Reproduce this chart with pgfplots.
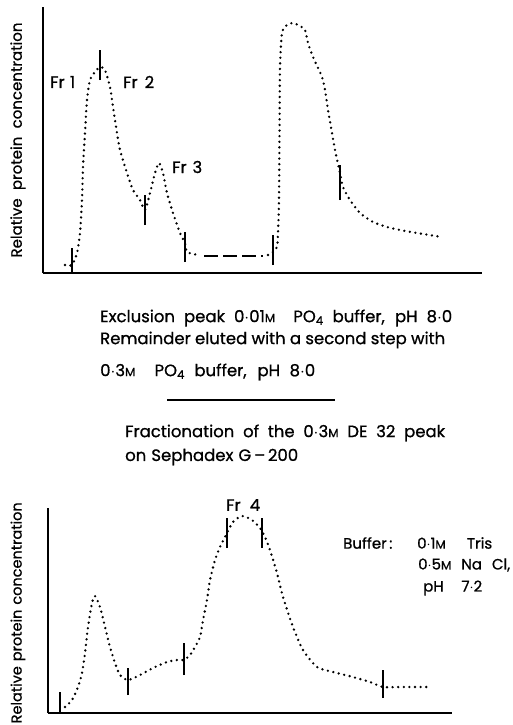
\documentclass[border=0pt]{standalone}
\usepackage{fontspec}
\setmainfont{Poppins}[FakeBold=0.8]
\usepackage{pgfplots}
\pgfplotsset{compat=1.18}
\newcommand\M{{\fontsize{12}{12}\selectfont M}}
\newcommand\W[2]{\makebox[#1pt][s]{#2}}
\begin{document}
\begin{tikzpicture}[x=1pt,y=1pt]
\useasboundingbox (0,0) rectangle (513,-725);
\pgfplotsset{
  dots/.style={black, line width=2.6pt, line cap=round, dash pattern=on 0pt off 5.6pt},
  mk/.style={black, line width=1.7pt},
  panel/.style={scale only axis, axis lines=left, axis line style={-, line width=2pt, black},
    xtick=\empty, ytick=\empty, clip=false}
}
% ---------- top panel ----------
\begin{axis}[panel, at={(43pt,-273pt)}, anchor=south west, width=439pt, height=266pt,
  xmin=43, xmax=482, ymin=0, ymax=266]
\addplot[dots, smooth, tension=0.4] coordinates {
(65,8)(72,8)(77,20)(80,40)(82,73)(83,106)(85,140)(87,173)(90,193)(95,201)(100,206)
(105,203)(110,186)(113,166)(117,140)(120,123)(127,100)(133,83)(140,73)(145,63)
(150,80)(155,100)(159,110)(163,100)(167,80)(173,60)(180,40)(185,30)(187,21)(198,18)};
\addplot[black, line width=1.8pt, dash pattern=on 14pt off 5pt] coordinates {(204,17)(263,17)};
\addplot[dots, smooth, tension=0.4] coordinates {
(268,18)(273,21)(277,26)(278,40)(279,73)(279.5,140)(280,206)(282,240)(287,248)(293,250)
(300,247)(305,243)(308,230)(313,216)(322,196)(325,183)(328,163)(332,140)(335,123)
(340,100)(343,86)(350,73)(360,60)(373,51)(387,46)(400,43)(417,40)(442,36)};
\addplot[mk] coordinates {(72,0)(72,25)};
\addplot[mk] coordinates {(100,193)(100,223)};
\addplot[mk] coordinates {(145,48)(145,78)};
\addplot[mk] coordinates {(185,11)(185,41)};
\addplot[mk] coordinates {(273,8)(273,38)};
\addplot[mk] coordinates {(340,73)(340,108)};
\end{axis}
% ---------- bottom panel ----------
\begin{axis}[panel, at={(48pt,-713pt)}, anchor=south west, width=404pt, height=205pt,
  xmin=48, xmax=452, ymin=0, ymax=205]
\addplot[dots, smooth, tension=0.4] coordinates {
(65,6)(72,13)(78,26)(82,40)(85,60)(88,86)(92,110)(95,117)(100,106)(105,86)(110,66)
(115,50)(120,38)(128,33)(140,38)(153,45)(167,51)(177,53)(184,53)(190,58)(195,66)
(200,76)(203,93)(207,113)(210,133)(215,153)(220,166)(225,176)(233,191)(242,197)
(252,193)(260,185)(265,176)(270,163)(277,140)(283,116)(293,86)(303,63)(317,46)
(333,41)(353,36)(370,31)(383,26)(400,26)(427,26)};
\addplot[mk] coordinates {(60,0)(60,21)};
\addplot[mk] coordinates {(128,18)(128,45)};
\addplot[mk] coordinates {(184,38)(184,70)};
\addplot[mk] coordinates {(227,165)(227,195)};
\addplot[mk] coordinates {(262,165)(262,195)};
\addplot[mk] coordinates {(383,15)(383,43)};
\end{axis}
% ---------- texts ----------
\begin{scope}[every node/.style={font=\fontsize{16.5}{18}\selectfont, inner sep=0pt}]
\node[rotate=90, font=\fontsize{15}{18}\selectfont] at (18,-140) {\W{235}{Relative protein concentration}};
\node[rotate=90, anchor=west, font=\fontsize{14.5}{18}\selectfont] at (18,-723.5) {\W{221}{Relative protein concentration}};
\node[anchor=west] at (50,-82) {\W{25}{Fr 1}};
\node[anchor=west] at (123,-82) {\W{31}{Fr 2}};
\node[anchor=west] at (172,-167) {\W{30}{Fr 3}};
\node[anchor=west] at (226,-505) {\W{34}{Fr 4}};
\node[anchor=west] at (100,-318) {\W{352}{Exclusion peak 0$\cdot$01\M\ \ PO\textsubscript{4} buffer, pH 8$\cdot$0}};
\node[anchor=west] at (100,-340) {\W{345}{Remainder eluted with a second step with}};
\node[anchor=west] at (100,-372) {\W{215}{0$\cdot$3\M\ \ PO\textsubscript{4} buffer, pH 8$\cdot$0}};
\node[anchor=west] at (125,-433) {\W{320}{Fractionation of the 0$\cdot$3\M\ DE 32 peak}};
\node[anchor=west] at (125,-457) {\W{173}{on Sephadex G\,--\,200}};
\node[anchor=west, font=\fontsize{15}{16}\selectfont] at (343,-543) {\W{57}{Buffer\,:}};
\node[anchor=west, font=\fontsize{15}{16}\selectfont] at (417,-543) {\W{75}{0$\cdot$1\M\ Tris}};
\node[anchor=west, font=\fontsize{15}{16}\selectfont] at (418,-565) {\W{92}{0$\cdot$5\M\ Na Cl,}};
\node[anchor=west, font=\fontsize{15}{16}\selectfont] at (423,-588) {\W{59}{pH 7$\cdot$2}};
\end{scope}
\draw[line width=1.3pt] (167,-400) -- (335,-400);
\end{tikzpicture}
\end{document}
